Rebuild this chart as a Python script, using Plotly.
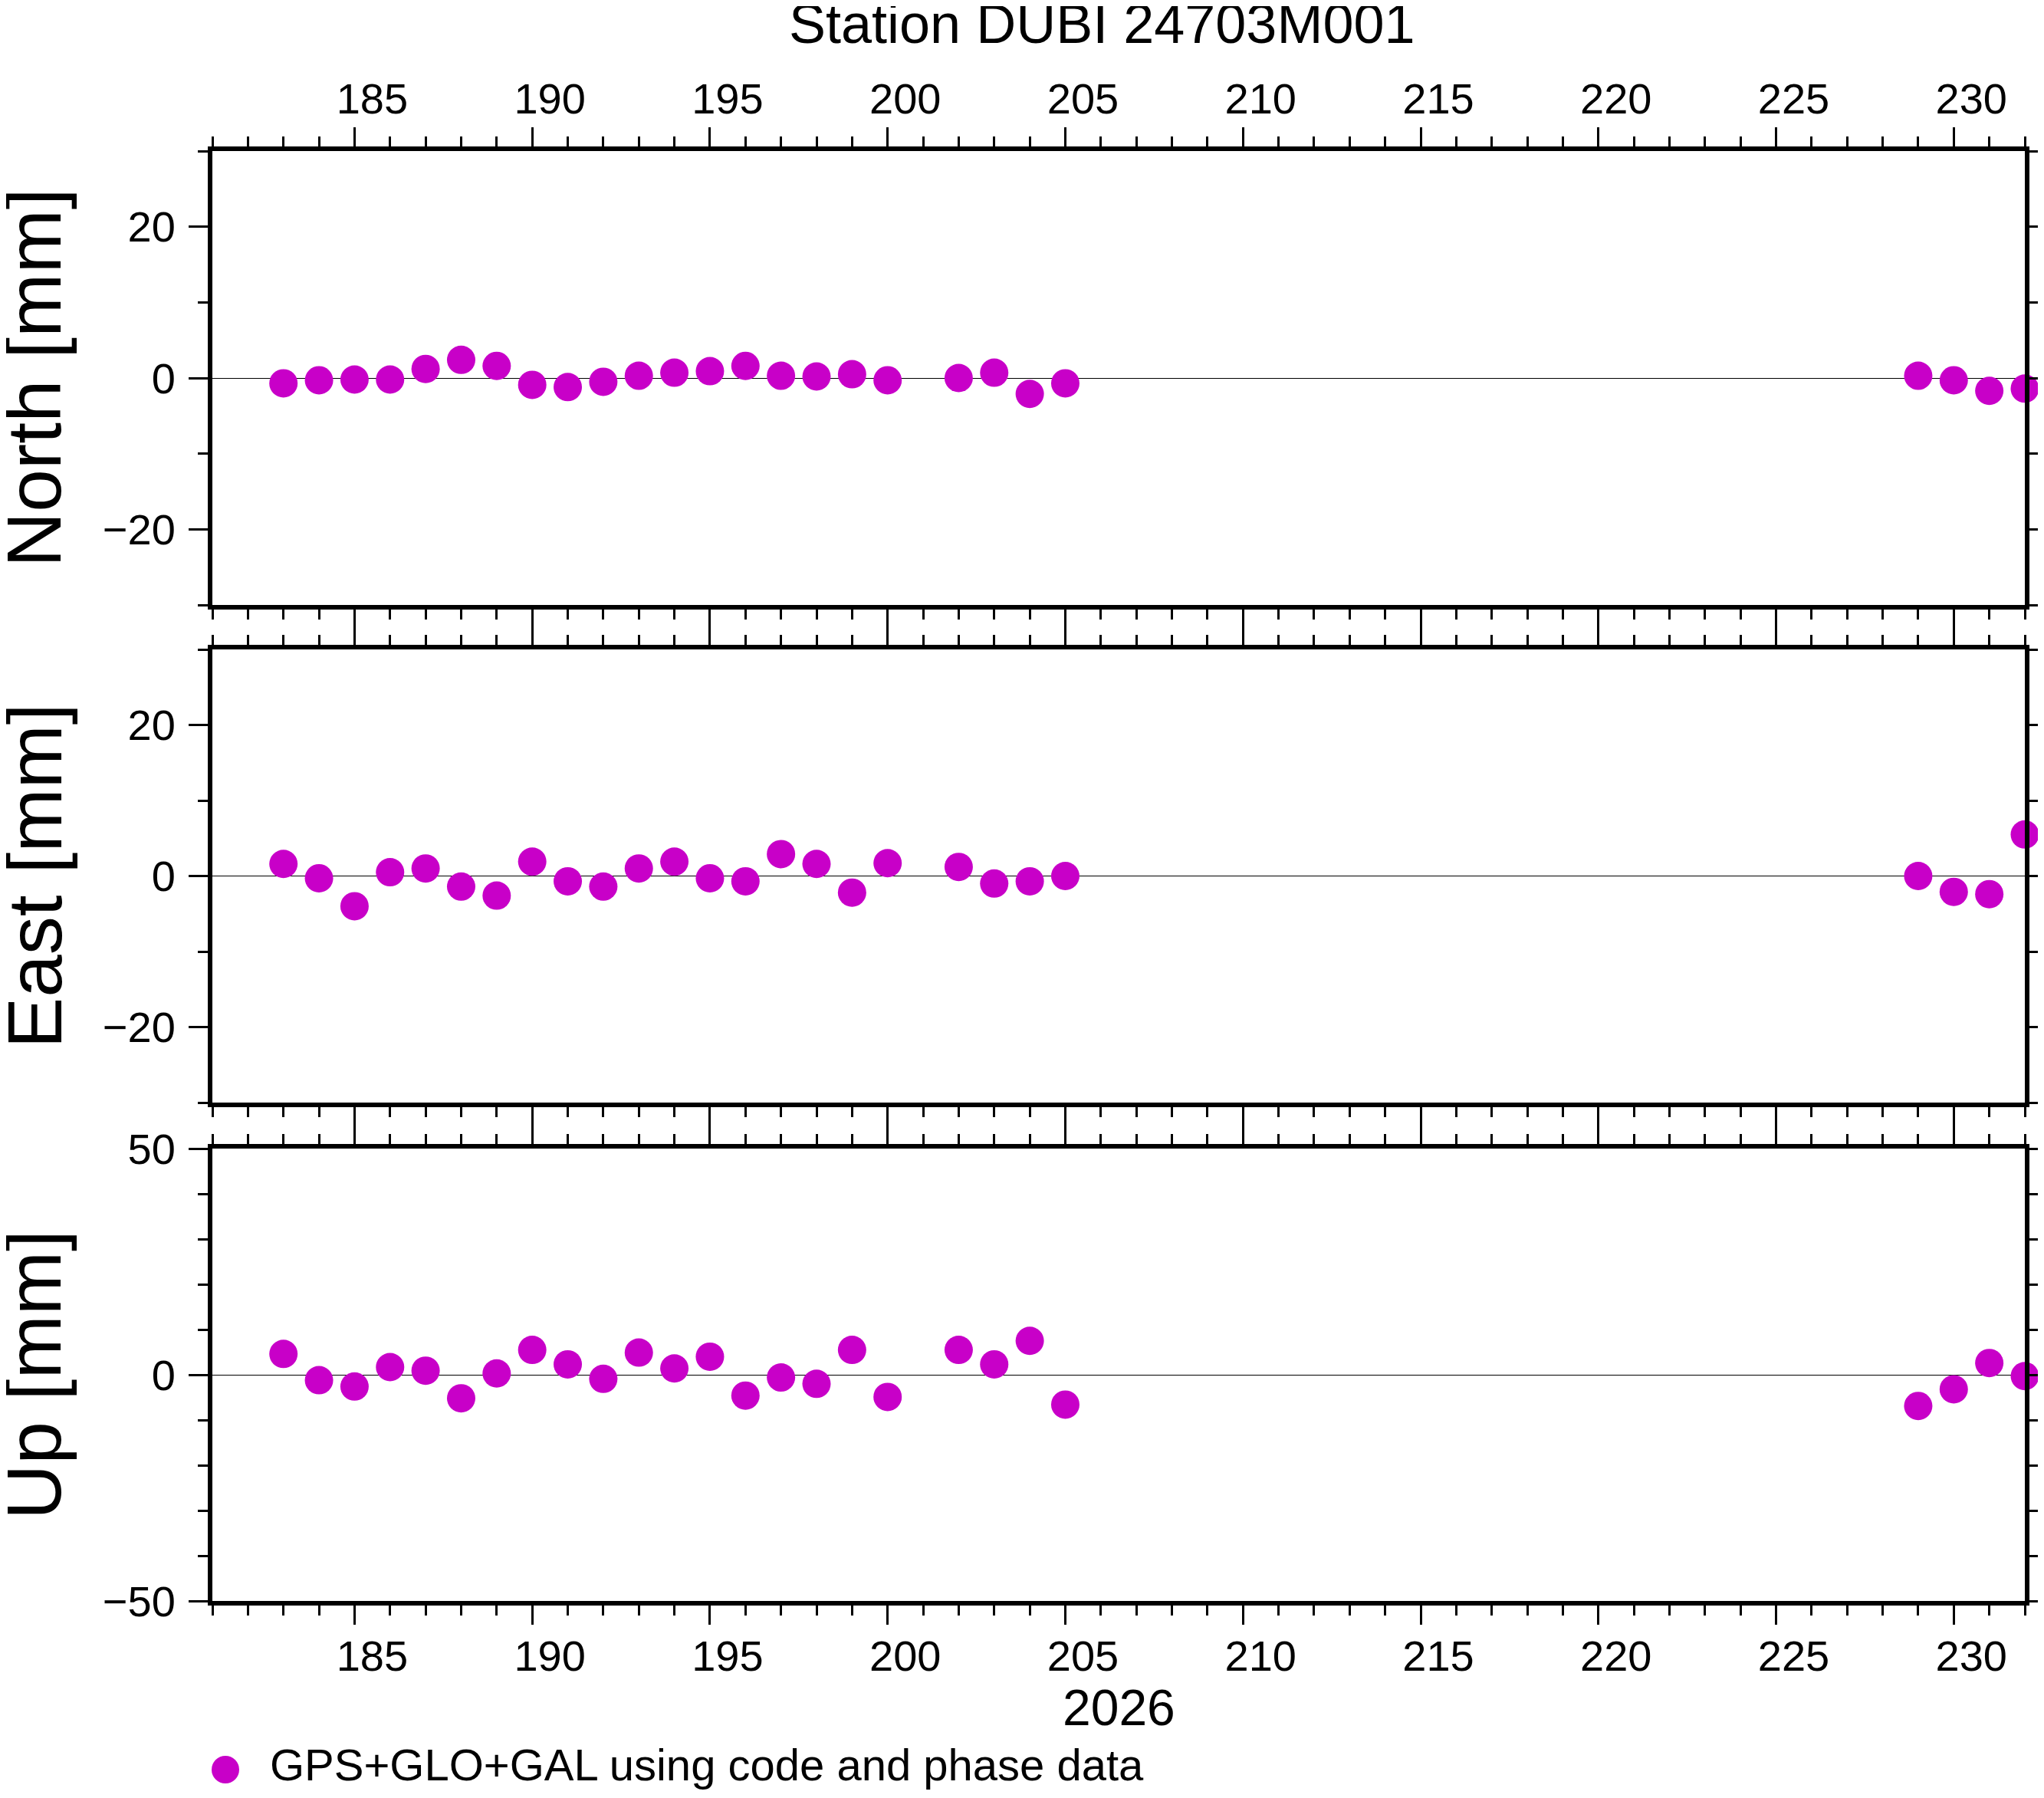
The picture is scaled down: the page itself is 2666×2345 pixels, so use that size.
import plotly.graph_objects as go

# day of year 2026
days = [183, 184, 185, 186, 187, 188, 189, 190, 191, 192, 193, 194, 195, 196,
        197, 198, 199, 200, 202, 203, 204, 205, 229, 230, 231, 232]

north = [-0.7, -0.3, -0.2, -0.2, 1.2, 2.4, 1.6, -0.9, -1.2, -0.5, 0.3, 0.7, 0.9, 1.6,
         0.3, 0.2, 0.5, -0.3, 0.0, 0.7, -2.1, -0.7, 0.3, -0.3, -1.7, -1.4]
east = [1.6, -0.3, -4.0, 0.5, 1.0, -1.4, -2.6, 1.9, -0.7, -1.4, 1.0, 1.9, -0.3, -0.7,
        2.9, 1.6, -2.2, 1.7, 1.2, -1.0, -0.7, 0.0, 0.0, -2.1, -2.4, 5.5]
up = [4.6, -1.2, -2.6, 1.7, 0.9, -5.2, 0.3, 5.5, 2.3, -0.9, 4.9, 1.4, 4.0, -4.6,
      -0.6, -2.0, 5.5, -4.9, 5.5, 2.3, 7.5, -6.6, -6.9, -3.2, 2.6, -0.3]

panel_titles = ["North [mm]", "East [mm]", "Up [mm]"]
panel_ranges = [[-30, 30], [-30, 30], [-50, 50]]
panel_dticks = [20, 20, 50]
station = "Station DUBI 24703M001"
year_label = "2026"
legend_label = "GPS+GLO+GAL using code and phase data"

# page has an 8px body margin, so the figure is drawn 8px in from the corner
OFF = 8
W, H = 2666 - 2 * OFF, 2345 - 2 * OFF
plot_left, plot_right, plot_top, plot_bot = 277, 2641, 197, 2088
L = plot_left - OFF
T = plot_top - OFF
R = W - (plot_right - OFF)
B = H - (plot_bot - OFF)
pw = plot_right - plot_left
ph = plot_bot - plot_top
mag = "#C800C8"
FONT = "Liberation Sans, Arial, Helvetica, sans-serif"


def px(x):
    return (x - plot_left) / pw


def py(y):
    return (plot_bot - y) / ph


# panel extents in pixels from the top
panel_px = [(197, 789), (847, 1438), (1498, 2088)]
doms = [[py(b), py(t)] for t, b in panel_px]

fig = go.Figure()
for i, vals in enumerate([north, east, up]):
    n = "" if i == 0 else str(i + 1)
    fig.add_trace(go.Scatter(x=days, y=vals, mode="markers", xaxis="x" + n, yaxis="y" + n,
                             marker=dict(size=37, color=mag, line=dict(width=0)),
                             showlegend=False, cliponaxis=False))

xmin, xmax = 181, 232
half_day = int(round(pw / (xmax - xmin) / 2))

axis_common = dict(showline=True, linewidth=6, linecolor="black", mirror="allticks",
                   ticks="outside", ticklen=25, tickwidth=3, tickcolor="black",
                   showgrid=False, tickfont=dict(size=56, color="black", family=FONT))

for i in range(3):
    n = "" if i == 0 else str(i + 1)
    xa = dict(axis_common, range=[xmin, xmax], domain=[0, 1], anchor="y" + n,
              tick0=185, dtick=5, zeroline=False,
              minor=dict(ticks="outside", ticklen=13, tickwidth=3, tickcolor="black",
                         tick0=181, dtick=1, showgrid=False),
              showticklabels=(i != 1), side="top" if i == 0 else "bottom",
              ticklabelshift=half_day, ticklabelstandoff=(-4 if i == 0 else -7))
    ya = dict(axis_common, range=panel_ranges[i], domain=doms[i], anchor="x" + n,
              tick0=0, dtick=panel_dticks[i],
              minor=dict(ticks="outside", ticklen=13, tickwidth=3, tickcolor="black",
                         tick0=0, dtick=10, showgrid=False),
              zeroline=True, zerolinecolor="black", zerolinewidth=1.3,
              ticklabelstandoff=6)
    fig.layout["xaxis" + n] = xa
    fig.layout["yaxis" + n] = ya

annotations = []
for i, title in enumerate(panel_titles):
    t, b = panel_px[i]
    annotations.append(dict(text=title, textangle=-90, xref="paper", yref="paper",
                            x=px(44), y=py((t + b) / 2),
                            xanchor="center", yanchor="middle", showarrow=False,
                            font=dict(size=100, color="black", family=FONT)))
annotations.append(dict(text=station, xref="paper", yref="paper",
                        x=px(1437), y=py(31), xanchor="center", yanchor="middle",
                        showarrow=False, font=dict(size=72, color="black", family=FONT)))
annotations.append(dict(text=year_label, xref="paper", yref="paper",
                        x=px(1459), y=py(2227), xanchor="center", yanchor="middle",
                        showarrow=False, font=dict(size=66, color="black", family=FONT)))
annotations.append(dict(text=legend_label, xref="paper", yref="paper",
                        x=px(350), y=py(2336), xanchor="left", yanchor="bottom",
                        showarrow=False, font=dict(size=58, color="black", family=FONT)))

shapes = [dict(type="circle", xref="paper", yref="paper", xsizemode="pixel", ysizemode="pixel",
               xanchor=px(294), yanchor=py(2308),
               x0=-18, x1=18, y0=-18, y1=18, fillcolor=mag, line=dict(width=0))]

fig.update_layout(width=W, height=H, margin=dict(l=L, r=R, t=T, b=B, autoexpand=False),
                  paper_bgcolor="white", plot_bgcolor="white",
                  annotations=annotations, shapes=shapes, showlegend=False,
                  font=dict(family=FONT, color="black"))

fig.write_html("out.html")
